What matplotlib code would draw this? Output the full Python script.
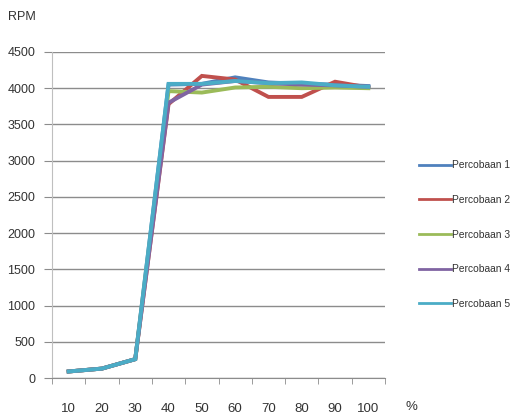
import matplotlib
matplotlib.use("Agg")
import matplotlib.pyplot as plt

plt.rcParams['font.family'] = ['Liberation Sans', 'DejaVu Sans']

kategori = ['10', '20', '30', '40', '50', '60', '70', '80', '90', '100']
percobaan_1 = [90, 130, 260, 4050, 4060, 4150, 4080, 4060, 4050, 4030]
percobaan_2 = [90, 130, 260, 3780, 4170, 4120, 3880, 3880, 4090, 4010]
percobaan_3 = [90, 130, 260, 3960, 3940, 4010, 4020, 4000, 4010, 4000]
percobaan_4 = [90, 130, 260, 3800, 4050, 4100, 4070, 4050, 4040, 4020]
percobaan_5 = [90, 130, 260, 4060, 4060, 4100, 4070, 4080, 4040, 4020]
y_ticks = [0, 500, 1000, 1500, 2000, 2500, 3000, 3500, 4000, 4500]

series = [percobaan_1, percobaan_2, percobaan_3, percobaan_4, percobaan_5]
names = ['Percobaan 1', 'Percobaan 2', 'Percobaan 3', 'Percobaan 4', 'Percobaan 5']
colors = ['#4F81BD', '#C0504D', '#9BBB59', '#8064A2', '#4BACC6']

fig = plt.figure(figsize=(5.19, 4.19), dpi=100)
ax = fig.add_axes([52/519, 1 - 378/419, 333/519, 326/419])

x = range(len(kategori))
for vals, name, c in zip(series, names, colors):
    ax.plot(x, vals, color=c, lw=2.8, label=name, solid_joinstyle='miter')

ax.set_xlim(-0.5, len(kategori) - 0.5)
ax.set_ylim(0, 4500)
ax.set_yticks(y_ticks)
ax.set_yticklabels([str(v) for v in y_ticks], fontsize=9, color='#333333')
ax.yaxis.grid(True, color='#8c8c8c', lw=1)
ax.set_axisbelow(True)

# category ticks sit between the categories
ax.set_xticks(list(x))
ax.set_xticklabels(kategori, fontsize=9.5, color='#333333')
ax.set_xticks([i - 0.5 for i in range(len(kategori) + 1)], minor=True)
ax.tick_params(axis='x', which='major', length=0, pad=18)
ax.tick_params(axis='x', which='minor', length=4, color='#8c8c8c', direction='out')
ax.tick_params(axis='y', length=6, color='#8c8c8c', pad=6)

for side in ['top', 'right']:
    ax.spines[side].set_visible(False)
ax.spines['left'].set_color('#bfbfbf')
ax.spines['bottom'].set_color('#8c8c8c')

fig.text(8/519, 1 - 17/419, 'RPM', fontsize=9, color='#333333', va='center')
fig.text(405/519, 1 - 407/419, '%', fontsize=9.5, color='#333333', va='center')

leg = ax.legend(loc='center left', bbox_to_anchor=(1.09, 0.44), frameon=False,
                fontsize=7.4, handlelength=3.1, handletextpad=0.15, labelspacing=2.4,
                borderaxespad=0)
for ln in leg.get_lines():
    ln.set_linewidth(2)
for t in leg.get_texts():
    t.set_color('#333333')

fig.savefig('out.png', dpi=100)
